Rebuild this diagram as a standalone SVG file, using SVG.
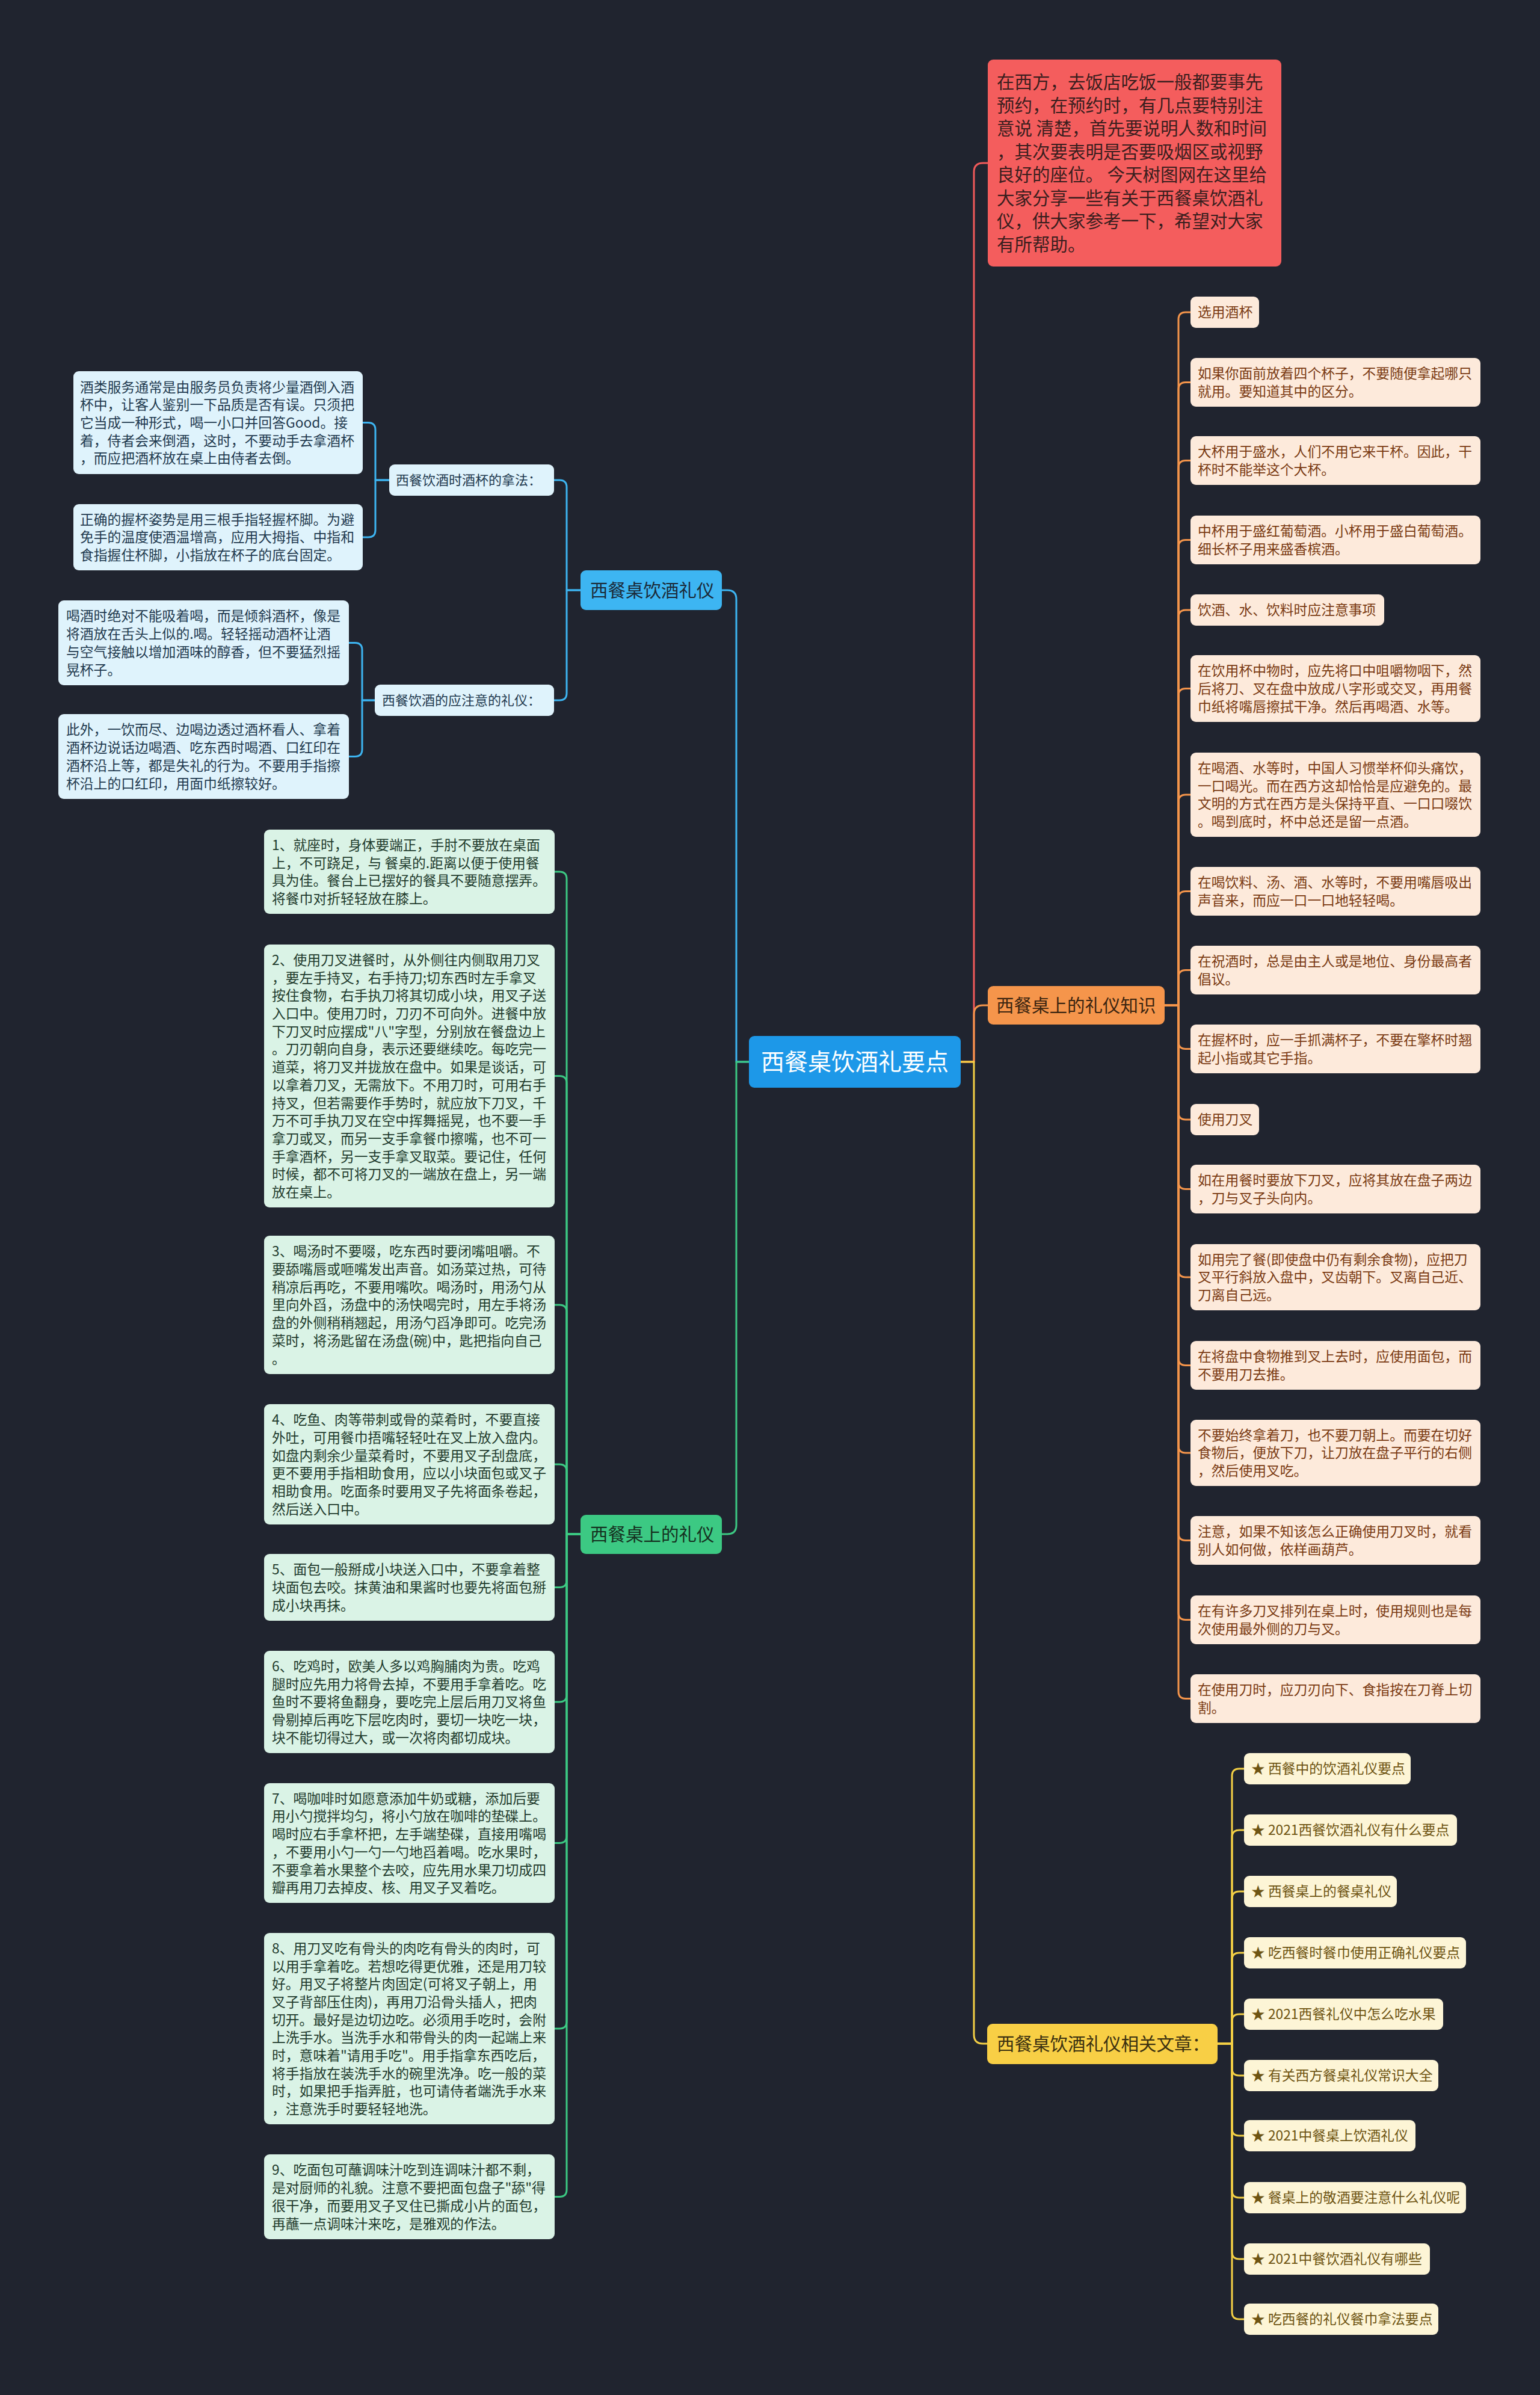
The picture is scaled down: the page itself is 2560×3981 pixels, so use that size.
<svg xmlns="http://www.w3.org/2000/svg" width="2560" height="3981" viewBox="0 0 2560 3981">
<style>
text{font-family:"Noto Sans CJK SC","Noto Sans",sans-serif}
.c{fill:none;stroke-width:3;stroke-linecap:round;stroke-linejoin:round}
.cb{stroke:#3db5f2}.cg{stroke:#3cc983}.cr{stroke:#f05a5a}.co{stroke:#f5954b}.cy{stroke:#f3cf45}
.lf{font-size:22.8px}
.bl{fill:#dff3fc}.blt{fill:#1f3a4f}
.gl{fill:#daf3e6}.glt{fill:#1f3b2d}
.ol{fill:#fdeadb}.olt{fill:#7a3a12}
.yl{fill:#fdf5d6}.ylt{fill:#6e5412}
.br{font-size:29.5px}
</style>
<rect width="2560" height="3981" fill="#20242f"/>
<g id="connectors">
<path class="c cr" d="M1597 1765H1619V286Q1619 271 1634 271H1642"/>
<path class="c co" d="M1597 1765H1619V1686Q1619 1671 1634 1671H1642"/>
<path class="c cy" d="M1597 1765H1619V3382Q1619 3397 1634 3397H1641"/>
<path class="c cb" d="M1245 1765H1224V996Q1224 981 1209 981H1200"/>
<path class="c cg" d="M1245 1765H1224V2535Q1224 2550 1209 2550H1200"/>
<path class="c cb" d="M965 981H942V810Q942 798 930 798H921"/>
<path class="c cb" d="M965 981H942V1152Q942 1164 930 1164H921"/>
<path class="c cb" d="M647 798H624V714.5Q624 702.5 612 702.5H603"/>
<path class="c cb" d="M647 798H624V881Q624 893 612 893H603"/>
<path class="c cb" d="M623 1164H602V1080.5Q602 1068.5 590 1068.5H580"/>
<path class="c cb" d="M623 1164H602V1245.5Q602 1257.5 590 1257.5H580"/>
<path class="c cg" d="M965 2550H942V1461Q942 1449 930 1449H922"/>
<path class="c cg" d="M965 2550H942V1800.5Q942 1788.5 930 1788.5H922"/>
<path class="c cg" d="M965 2550H942V2181Q942 2169 930 2169H922"/>
<path class="c cg" d="M965 2550H942V2446Q942 2434 930 2434H922"/>
<path class="c cg" d="M965 2550H942V2626.5Q942 2638.5 930 2638.5H922"/>
<path class="c cg" d="M965 2550H942V2817Q942 2829 930 2829H922"/>
<path class="c cg" d="M965 2550H942V3051.5Q942 3063.5 930 3063.5H922"/>
<path class="c cg" d="M965 2550H942V3360Q942 3372 930 3372H922"/>
<path class="c cg" d="M965 2550H942V3639.5Q942 3651.5 930 3651.5H922"/>
<path class="c co" d="M1936 1671H1959V531Q1959 519 1971 519H1979"/>
<path class="c co" d="M1936 1671H1959V647.5Q1959 635.5 1971 635.5H1979"/>
<path class="c co" d="M1936 1671H1959V777.5Q1959 765.5 1971 765.5H1979"/>
<path class="c co" d="M1936 1671H1959V909.5Q1959 897.5 1971 897.5H1979"/>
<path class="c co" d="M1936 1671H1959V1026Q1959 1014 1971 1014H1979"/>
<path class="c co" d="M1936 1671H1959V1156.5Q1959 1144.5 1971 1144.5H1979"/>
<path class="c co" d="M1936 1671H1959V1333Q1959 1321 1971 1321H1979"/>
<path class="c co" d="M1936 1671H1959V1493.5Q1959 1481.5 1971 1481.5H1979"/>
<path class="c co" d="M1936 1671H1959V1624.5Q1959 1612.5 1971 1612.5H1979"/>
<path class="c co" d="M1936 1671H1959V1731.5Q1959 1743.5 1971 1743.5H1979"/>
<path class="c co" d="M1936 1671H1959V1849Q1959 1861 1971 1861H1979"/>
<path class="c co" d="M1936 1671H1959V1964.5Q1959 1976.5 1971 1976.5H1979"/>
<path class="c co" d="M1936 1671H1959V2111Q1959 2123 1971 2123H1979"/>
<path class="c co" d="M1936 1671H1959V2257.5Q1959 2269.5 1971 2269.5H1979"/>
<path class="c co" d="M1936 1671H1959V2403Q1959 2415 1971 2415H1979"/>
<path class="c co" d="M1936 1671H1959V2548.5Q1959 2560.5 1971 2560.5H1979"/>
<path class="c co" d="M1936 1671H1959V2680.5Q1959 2692.5 1971 2692.5H1979"/>
<path class="c co" d="M1936 1671H1959V2811.5Q1959 2823.5 1971 2823.5H1979"/>
<path class="c cy" d="M2024 3397H2048V2952Q2048 2940 2060 2940H2068"/>
<path class="c cy" d="M2024 3397H2048V3054Q2048 3042 2060 3042H2068"/>
<path class="c cy" d="M2024 3397H2048V3156Q2048 3144 2060 3144H2068"/>
<path class="c cy" d="M2024 3397H2048V3258Q2048 3246 2060 3246H2068"/>
<path class="c cy" d="M2024 3397H2048V3360Q2048 3348 2060 3348H2068"/>
<path class="c cy" d="M2024 3397H2048V3438Q2048 3450 2060 3450H2068"/>
<path class="c cy" d="M2024 3397H2048V3538Q2048 3550 2060 3550H2068"/>
<path class="c cy" d="M2024 3397H2048V3641Q2048 3653 2060 3653H2068"/>
<path class="c cy" d="M2024 3397H2048V3743Q2048 3755 2060 3755H2068"/>
<path class="c cy" d="M2024 3397H2048V3843Q2048 3855 2060 3855H2068"/>
</g>

<g id="root">
<rect x="1245" y="1722" width="352" height="86" rx="9" fill="#1d98e8"/>
<text x="1421" y="1779.4" font-size="39" fill="#ffffff" text-anchor="middle">西餐桌饮酒礼要点</text>
</g>

<g id="intro">
<rect x="1642" y="99" width="488" height="344" rx="9" fill="#f45d5d"/>
<text x="1657" font-size="29.5" fill="#3a1e1e">
<tspan x="1657" y="147.2">在西方，去饭店吃饭一般都要事先</tspan>
<tspan x="1657" y="185.7">预约，在预约时，有几点要特别注</tspan>
<tspan x="1657" y="224.2">意说 清楚，首先要说明人数和时间</tspan>
<tspan x="1657" y="262.7">，其次要表明是否要吸烟区或视野</tspan>
<tspan x="1657" y="301.2">良好的座位。 今天树图网在这里给</tspan>
<tspan x="1657" y="339.7">大家分享一些有关于西餐桌饮酒礼</tspan>
<tspan x="1657" y="378.2">仪，供大家参考一下，希望对大家</tspan>
<tspan x="1657" y="416.7">有所帮助。</tspan>
</text>
</g>

<g id="b-blue">
<rect x="965" y="948" width="235" height="66" rx="9" fill="#3db5f2"/>
<text class="br" x="981" y="991.9" fill="#1b2a38">西餐桌饮酒礼仪</text>
</g>
<g id="b-blue-s1">
<rect class="bl" x="647" y="772" width="274" height="52" rx="9"/>
<text class="blt" x="658" y="806.1" font-size="22">西餐饮酒时酒杯的拿法：</text>
</g>
<g id="b-blue-s2">
<rect class="bl" x="623" y="1138" width="298" height="52" rx="9"/>
<text class="blt" x="635" y="1172.1" font-size="22">西餐饮酒的应注意的礼仪：</text>
</g>
<g id="b-blue-a">
<rect class="bl" x="122" y="617" width="481" height="171" rx="9"/>
<text class="blt lf">
<tspan x="133" y="651.5">酒类服务通常是由服务员负责将少量酒倒入酒</tspan>
<tspan x="133" y="681.2">杯中，让客人鉴别一下品质是否有误。只须把</tspan>
<tspan x="133" y="710.9">它当成一种形式，喝一小口并回答Good。接</tspan>
<tspan x="133" y="740.6">着，侍者会来倒酒，这时，不要动手去拿酒杯</tspan>
<tspan x="133" y="770.3">，而应把酒杯放在桌上由侍者去倒。</tspan>
</text>
</g>
<g id="b-blue-b">
<rect class="bl" x="122" y="838" width="481" height="110" rx="9"/>
<text class="blt lf">
<tspan x="133" y="871.7">正确的握杯姿势是用三根手指轻握杯脚。为避</tspan>
<tspan x="133" y="901.4">免手的温度使酒温增高，应用大拇指、中指和</tspan>
<tspan x="133" y="931.1">食指握住杯脚，小指放在杯子的底台固定。</tspan>
</text>
</g>
<g id="b-blue-c">
<rect class="bl" x="97" y="998" width="483" height="141" rx="9"/>
<text class="blt lf">
<tspan x="110" y="1032.4">喝酒时绝对不能吸着喝，而是倾斜酒杯，像是</tspan>
<tspan x="110" y="1062.1">将酒放在舌头上似的.喝。轻轻摇动酒杯让酒</tspan>
<tspan x="110" y="1091.8">与空气接触以增加酒味的醇香，但不要猛烈摇</tspan>
<tspan x="110" y="1121.5">晃杯子。</tspan>
</text>
</g>
<g id="b-blue-d">
<rect class="bl" x="97" y="1187" width="483" height="141" rx="9"/>
<text class="blt lf">
<tspan x="110" y="1221.4">此外，一饮而尽、边喝边透过酒杯看人、拿着</tspan>
<tspan x="110" y="1251.1">酒杯边说话边喝酒、吃东西时喝酒、口红印在</tspan>
<tspan x="110" y="1280.8">酒杯沿上等，都是失礼的行为。不要用手指擦</tspan>
<tspan x="110" y="1310.5">杯沿上的口红印，用面巾纸擦较好。</tspan>
</text>
</g>

<g id="b-green">
<rect x="965" y="2518" width="235" height="65" rx="9" fill="#3cc983"/>
<text class="br" x="981" y="2560.9" fill="#15301f">西餐桌上的礼仪</text>
</g>
<g id="g1">
<rect class="gl" x="439" y="1379" width="483" height="140" rx="9"/>
<text class="glt lf">
<tspan x="452" y="1412.9">1、就座时，身体要端正，手肘不要放在桌面</tspan>
<tspan x="452" y="1442.6">上，不可跷足，与 餐桌的.距离以便于使用餐</tspan>
<tspan x="452" y="1472.3">具为佳。餐台上已摆好的餐具不要随意摆弄。</tspan>
<tspan x="452" y="1502.0">将餐巾对折轻轻放在膝上。</tspan>
</text>
</g>
<g id="g2">
<rect class="gl" x="439" y="1570" width="483" height="437" rx="9"/>
<text class="glt lf">
<tspan x="452" y="1603.9">2、使用刀叉进餐时，从外侧往内侧取用刀叉</tspan>
<tspan x="452" y="1633.6">，要左手持叉，右手持刀;切东西时左手拿叉</tspan>
<tspan x="452" y="1663.3">按住食物，右手执刀将其切成小块，用叉子送</tspan>
<tspan x="452" y="1693.0">入口中。使用刀时，刀刃不可向外。进餐中放</tspan>
<tspan x="452" y="1722.7">下刀叉时应摆成"八"字型，分别放在餐盘边上</tspan>
<tspan x="452" y="1752.4">。刀刃朝向自身，表示还要继续吃。每吃完一</tspan>
<tspan x="452" y="1782.1">道菜，将刀叉并拢放在盘中。如果是谈话，可</tspan>
<tspan x="452" y="1811.8">以拿着刀叉，无需放下。不用刀时，可用右手</tspan>
<tspan x="452" y="1841.5">持叉，但若需要作手势时，就应放下刀叉，千</tspan>
<tspan x="452" y="1871.2">万不可手执刀叉在空中挥舞摇晃，也不要一手</tspan>
<tspan x="452" y="1900.9">拿刀或叉，而另一支手拿餐巾擦嘴，也不可一</tspan>
<tspan x="452" y="1930.6">手拿酒杯，另一支手拿叉取菜。要记住，任何</tspan>
<tspan x="452" y="1960.3">时候，都不可将刀叉的一端放在盘上，另一端</tspan>
<tspan x="452" y="1990.0">放在桌上。</tspan>
</text>
</g>
<g id="g3">
<rect class="gl" x="439" y="2054" width="483" height="230" rx="9"/>
<text class="glt lf">
<tspan x="452" y="2088.3">3、喝汤时不要啜，吃东西时要闭嘴咀嚼。不</tspan>
<tspan x="452" y="2118.0">要舔嘴唇或咂嘴发出声音。如汤菜过热，可待</tspan>
<tspan x="452" y="2147.7">稍凉后再吃，不要用嘴吹。喝汤时，用汤勺从</tspan>
<tspan x="452" y="2177.4">里向外舀，汤盘中的汤快喝完时，用左手将汤</tspan>
<tspan x="452" y="2207.1">盘的外侧稍稍翘起，用汤勺舀净即可。吃完汤</tspan>
<tspan x="452" y="2236.8">菜时，将汤匙留在汤盘(碗)中，匙把指向自己</tspan>
<tspan x="452" y="2266.5">。</tspan>
</text>
</g>
<g id="g4">
<rect class="gl" x="439" y="2334" width="483" height="200" rx="9"/>
<text class="glt lf">
<tspan x="452" y="2368.2">4、吃鱼、肉等带刺或骨的菜肴时，不要直接</tspan>
<tspan x="452" y="2397.9">外吐，可用餐巾捂嘴轻轻吐在叉上放入盘内。</tspan>
<tspan x="452" y="2427.6">如盘内剩余少量菜肴时，不要用叉子刮盘底，</tspan>
<tspan x="452" y="2457.3">更不要用手指相助食用，应以小块面包或叉子</tspan>
<tspan x="452" y="2487.0">相助食用。吃面条时要用叉子先将面条卷起，</tspan>
<tspan x="452" y="2516.7">然后送入口中。</tspan>
</text>
</g>
<g id="g5">
<rect class="gl" x="439" y="2583" width="483" height="111" rx="9"/>
<text class="glt lf">
<tspan x="452" y="2617.2">5、面包一般掰成小块送入口中，不要拿着整</tspan>
<tspan x="452" y="2646.9">块面包去咬。抹黄油和果酱时也要先将面包掰</tspan>
<tspan x="452" y="2676.6">成小块再抹。</tspan>
</text>
</g>
<g id="g6">
<rect class="gl" x="439" y="2744" width="483" height="170" rx="9"/>
<text class="glt lf">
<tspan x="452" y="2778.0">6、吃鸡时，欧美人多以鸡胸脯肉为贵。吃鸡</tspan>
<tspan x="452" y="2807.7">腿时应先用力将骨去掉，不要用手拿着吃。吃</tspan>
<tspan x="452" y="2837.4">鱼时不要将鱼翻身，要吃完上层后用刀叉将鱼</tspan>
<tspan x="452" y="2867.1">骨剔掉后再吃下层吃肉时，要切一块吃一块，</tspan>
<tspan x="452" y="2896.8">块不能切得过大，或一次将肉都切成块。</tspan>
</text>
</g>
<g id="g7">
<rect class="gl" x="439" y="2964" width="483" height="199" rx="9"/>
<text class="glt lf">
<tspan x="452" y="2997.7">7、喝咖啡时如愿意添加牛奶或糖，添加后要</tspan>
<tspan x="452" y="3027.4">用小勺搅拌均匀，将小勺放在咖啡的垫碟上。</tspan>
<tspan x="452" y="3057.1">喝时应右手拿杯把，左手端垫碟，直接用嘴喝</tspan>
<tspan x="452" y="3086.8">，不要用小勺一勺一勺地舀着喝。吃水果时，</tspan>
<tspan x="452" y="3116.5">不要拿着水果整个去咬，应先用水果刀切成四</tspan>
<tspan x="452" y="3146.2">瓣再用刀去掉皮、核、用叉子叉着吃。</tspan>
</text>
</g>
<g id="g8">
<rect class="gl" x="439" y="3213" width="483" height="318" rx="9"/>
<text class="glt lf">
<tspan x="452" y="3246.8">8、用刀叉吃有骨头的肉吃有骨头的肉时，可</tspan>
<tspan x="452" y="3276.5">以用手拿着吃。若想吃得更优雅，还是用刀较</tspan>
<tspan x="452" y="3306.2">好。用叉子将整片肉固定(可将叉子朝上，用</tspan>
<tspan x="452" y="3335.9">叉子背部压住肉)，再用刀沿骨头插人，把肉</tspan>
<tspan x="452" y="3365.6">切开。最好是边切边吃。必须用手吃时，会附</tspan>
<tspan x="452" y="3395.3">上洗手水。当洗手水和带骨头的肉一起端上来</tspan>
<tspan x="452" y="3425.0">时，意味着"请用手吃"。用手指拿东西吃后，</tspan>
<tspan x="452" y="3454.7">将手指放在装洗手水的碗里洗净。吃一般的菜</tspan>
<tspan x="452" y="3484.4">时，如果把手指弄脏，也可请侍者端洗手水来</tspan>
<tspan x="452" y="3514.1">，注意洗手时要轻轻地洗。</tspan>
</text>
</g>
<g id="g9">
<rect class="gl" x="439" y="3581" width="483" height="141" rx="9"/>
<text class="glt lf">
<tspan x="452" y="3615.4">9、吃面包可蘸调味汁吃到连调味汁都不剩，</tspan>
<tspan x="452" y="3645.1">是对厨师的礼貌。注意不要把面包盘子"舔"得</tspan>
<tspan x="452" y="3674.8">很干净，而要用叉子叉住已撕成小片的面包，</tspan>
<tspan x="452" y="3704.5">再蘸一点调味汁来吃，是雅观的作法。</tspan>
</text>
</g>

<g id="b-orange">
<rect x="1642" y="1639" width="294" height="64" rx="9" fill="#f5954b"/>
<text class="br" x="1656" y="1681.9" fill="#3a2410">西餐桌上的礼仪知识</text>
</g>
<g id="o1"><rect class="ol" x="1979" y="493" width="114" height="52" rx="9"/><text class="olt lf" x="1991" y="527.4">选用酒杯</text></g>
<g id="o2"><rect class="ol" x="1979" y="595" width="482" height="81" rx="9"/><text class="olt lf"><tspan x="1991" y="629.1">如果你面前放着四个杯子，不要随便拿起哪只</tspan><tspan x="1991" y="658.8">就用。要知道其中的区分。</tspan></text></g>
<g id="o3"><rect class="ol" x="1979" y="725" width="482" height="81" rx="9"/><text class="olt lf"><tspan x="1991" y="759.0">大杯用于盛水，人们不用它来干杯。因此，干</tspan><tspan x="1991" y="788.7">杯时不能举这个大杯。</tspan></text></g>
<g id="o4"><rect class="ol" x="1979" y="857" width="482" height="81" rx="9"/><text class="olt lf"><tspan x="1991" y="891.1">中杯用于盛红葡萄酒。小杯用于盛白葡萄酒。</tspan><tspan x="1991" y="920.8">细长杯子用来盛香槟酒。</tspan></text></g>
<g id="o5"><rect class="ol" x="1979" y="988" width="322" height="52" rx="9"/><text class="olt lf" x="1991" y="1022.4">饮酒、水、饮料时应注意事项</text></g>
<g id="o6"><rect class="ol" x="1979" y="1089" width="482" height="111" rx="9"/><text class="olt lf"><tspan x="1991" y="1123.2">在饮用杯中物时，应先将口中咀嚼物咽下，然</tspan><tspan x="1991" y="1152.9">后将刀、叉在盘中放成八字形或交叉，再用餐</tspan><tspan x="1991" y="1182.6">巾纸将嘴唇擦拭干净。然后再喝酒、水等。</tspan></text></g>
<g id="o7"><rect class="ol" x="1979" y="1251" width="482" height="140" rx="9"/><text class="olt lf"><tspan x="1991" y="1284.9">在喝酒、水等时，中国人习惯举杯仰头痛饮，</tspan><tspan x="1991" y="1314.6">一口喝光。而在西方这却恰恰是应避免的。最</tspan><tspan x="1991" y="1344.3">文明的方式在西方是头保持平直、一口口啜饮</tspan><tspan x="1991" y="1374.0">。喝到底时，杯中总还是留一点酒。</tspan></text></g>
<g id="o8"><rect class="ol" x="1979" y="1441" width="482" height="81" rx="9"/><text class="olt lf"><tspan x="1991" y="1475.1">在喝饮料、汤、酒、水等时，不要用嘴唇吸出</tspan><tspan x="1991" y="1504.8">声音来，而应一口一口地轻轻喝。</tspan></text></g>
<g id="o9"><rect class="ol" x="1979" y="1572" width="482" height="81" rx="9"/><text class="olt lf"><tspan x="1991" y="1606.1">在祝酒时，总是由主人或是地位、身份最高者</tspan><tspan x="1991" y="1635.8">倡议。</tspan></text></g>
<g id="o10"><rect class="ol" x="1979" y="1703" width="482" height="81" rx="9"/><text class="olt lf"><tspan x="1991" y="1737.1">在握杯时，应一手抓满杯子，不要在擎杯时翘</tspan><tspan x="1991" y="1766.8">起小指或其它手指。</tspan></text></g>
<g id="o11"><rect class="ol" x="1979" y="1835" width="114" height="52" rx="9"/><text class="olt lf" x="1991" y="1869.4">使用刀叉</text></g>
<g id="o12"><rect class="ol" x="1979" y="1936" width="482" height="81" rx="9"/><text class="olt lf"><tspan x="1991" y="1970.1">如在用餐时要放下刀叉，应将其放在盘子两边</tspan><tspan x="1991" y="1999.8">，刀与叉子头向内。</tspan></text></g>
<g id="o13"><rect class="ol" x="1979" y="2068" width="482" height="110" rx="9"/><text class="olt lf"><tspan x="1991" y="2101.7">如用完了餐(即使盘中仍有剩余食物)，应把刀</tspan><tspan x="1991" y="2131.4">叉平行斜放入盘中，叉齿朝下。叉离自己近、</tspan><tspan x="1991" y="2161.1">刀离自己远。</tspan></text></g>
<g id="o14"><rect class="ol" x="1979" y="2229" width="482" height="81" rx="9"/><text class="olt lf"><tspan x="1991" y="2263.1">在将盘中食物推到叉上去时，应使用面包，而</tspan><tspan x="1991" y="2292.8">不要用刀去推。</tspan></text></g>
<g id="o15"><rect class="ol" x="1979" y="2360" width="482" height="110" rx="9"/><text class="olt lf"><tspan x="1991" y="2393.7">不要始终拿着刀，也不要刀朝上。而要在切好</tspan><tspan x="1991" y="2423.4">食物后，便放下刀，让刀放在盘子平行的右侧</tspan><tspan x="1991" y="2453.1">，然后使用叉吃。</tspan></text></g>
<g id="o16"><rect class="ol" x="1979" y="2520" width="482" height="81" rx="9"/><text class="olt lf"><tspan x="1991" y="2554.1">注意，如果不知该怎么正确使用刀叉时，就看</tspan><tspan x="1991" y="2583.8">别人如何做，依样画葫芦。</tspan></text></g>
<g id="o17"><rect class="ol" x="1979" y="2652" width="482" height="81" rx="9"/><text class="olt lf"><tspan x="1991" y="2686.1">在有许多刀叉排列在桌上时，使用规则也是每</tspan><tspan x="1991" y="2715.8">次使用最外侧的刀与叉。</tspan></text></g>
<g id="o18"><rect class="ol" x="1979" y="2783" width="482" height="81" rx="9"/><text class="olt lf"><tspan x="1991" y="2817.1">在使用刀时，应刀刃向下、食指按在刀脊上切</tspan><tspan x="1991" y="2846.8">割。</tspan></text></g>

<g id="b-yellow">
<rect x="1641" y="3364" width="383" height="67" rx="9" fill="#f8cf45"/>
<text class="br" x="1657" y="3407.9" fill="#3b3010">西餐桌饮酒礼仪相关文章：</text>
</g>
<g id="y1"><rect class="yl" x="2068" y="2914" width="277" height="52" rx="9"/><text class="ylt lf" x="2080" y="2948.4">★ 西餐中的饮酒礼仪要点</text></g>
<g id="y2"><rect class="yl" x="2068" y="3016" width="354" height="52" rx="9"/><text class="ylt lf" x="2080" y="3050.4">★ 2021西餐饮酒礼仪有什么要点</text></g>
<g id="y3"><rect class="yl" x="2068" y="3118" width="254" height="52" rx="9"/><text class="ylt lf" x="2080" y="3152.4">★ 西餐桌上的餐桌礼仪</text></g>
<g id="y4"><rect class="yl" x="2068" y="3220" width="369" height="52" rx="9"/><text class="ylt lf" x="2080" y="3254.4">★ 吃西餐时餐巾使用正确礼仪要点</text></g>
<g id="y5"><rect class="yl" x="2068" y="3322" width="331" height="52" rx="9"/><text class="ylt lf" x="2080" y="3356.4">★ 2021西餐礼仪中怎么吃水果</text></g>
<g id="y6"><rect class="yl" x="2068" y="3424" width="323" height="52" rx="9"/><text class="ylt lf" x="2080" y="3458.4">★ 有关西方餐桌礼仪常识大全</text></g>
<g id="y7"><rect class="yl" x="2068" y="3524" width="285" height="52" rx="9"/><text class="ylt lf" x="2080" y="3558.4">★ 2021中餐桌上饮酒礼仪</text></g>
<g id="y8"><rect class="yl" x="2068" y="3627" width="369" height="52" rx="9"/><text class="ylt lf" x="2080" y="3661.4">★ 餐桌上的敬酒要注意什么礼仪呢</text></g>
<g id="y9"><rect class="yl" x="2068" y="3729" width="309" height="52" rx="9"/><text class="ylt lf" x="2080" y="3763.4">★ 2021中餐饮酒礼仪有哪些</text></g>
<g id="y10"><rect class="yl" x="2068" y="3829" width="323" height="52" rx="9"/><text class="ylt lf" x="2080" y="3863.4">★ 吃西餐的礼仪餐巾拿法要点</text></g>
</svg>
